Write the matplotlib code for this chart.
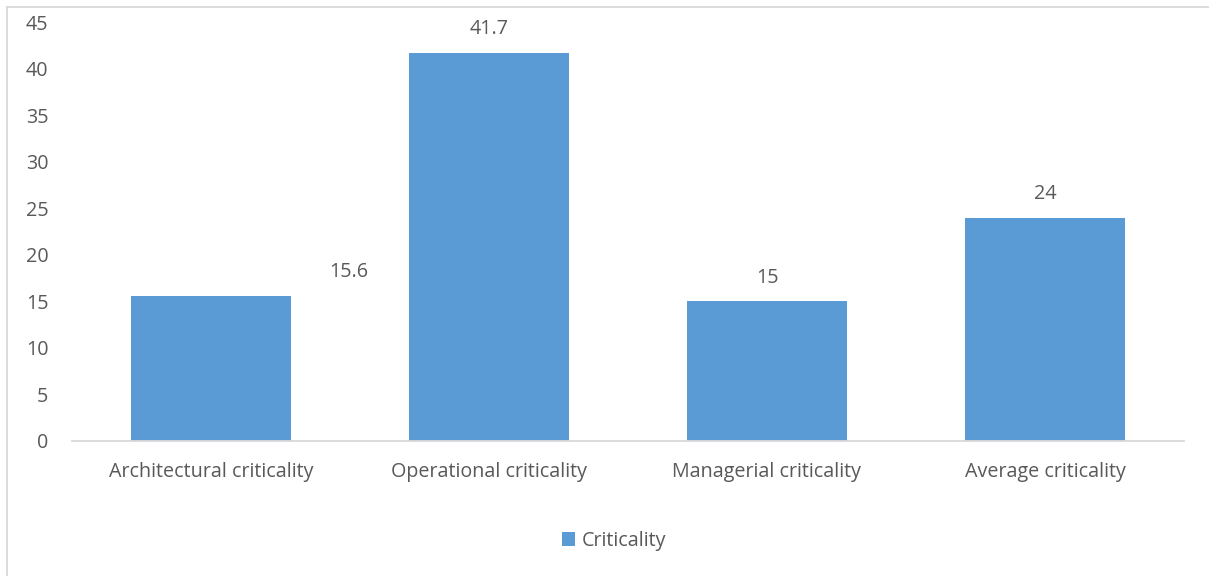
import matplotlib
matplotlib.use("Agg")
import matplotlib.pyplot as plt
from matplotlib.lines import Line2D

categories = ["Architectural criticality", "Operational criticality",
              "Managerial criticality", "Average criticality"]
values = [15.6, 41.7, 15, 24]
value_labels = ["15.6", "41.7", "15", "24"]
series_name = "Criticality"
yticks = [0, 5, 10, 15, 20, 25, 30, 35, 40, 45]

plt.rcParams['font.family'] = ['Open Sans', 'DejaVu Sans']
TXT = "#595959"
BAR = "#5B9BD5"
FS = 14.2

W, H = 1209, 576
fig = plt.figure(figsize=(W / 100, H / 100), dpi=100)
ax = fig.add_axes([72 / W, 1 - 441 / H, (1184 - 72) / W, (441 - 22) / H])

x = list(range(len(categories)))
bars = ax.bar(x, values, width=0.572, color=BAR, label=series_name)
ax.set_xlim(-0.5, len(categories) - 0.5)
ax.set_ylim(0, 45)
ax.set_yticks(yticks)
ax.set_xticks(x)
ax.set_xticklabels(categories)

for s in ["top", "right", "left"]:
    ax.spines[s].set_visible(False)
ax.spines["bottom"].set_color("#D9D9D9")
ax.spines["bottom"].set_linewidth(1.3)
ax.tick_params(axis="both", length=0, colors=TXT, labelsize=FS)
ax.tick_params(axis="y", pad=17)
ax.tick_params(axis="x", pad=15)

offsets = [138, 0, 0, 0]
for xi, v, lab, dx in zip(x, values, value_labels, offsets):
    ax.annotate(lab, xy=(xi, v), xytext=(dx * 0.72, 17), textcoords="offset points",
                ha="center", va="center", fontsize=FS, color=TXT)

leg = fig.legend(handles=[bars], labels=[series_name], loc="center",
                 bbox_to_anchor=(614 / W, 1 - 541 / H), frameon=False,
                 fontsize=FS, handlelength=0.65, handleheight=0.65,
                 handletextpad=0.35)
for t in leg.get_texts():
    t.set_color(TXT)

# outer chart border (left and top visible)
fig.add_artist(Line2D([7 / W, 7 / W], [0, 1 - 7 / H], transform=fig.transFigure,
                      color="#D9D9D9", lw=1.3))
fig.add_artist(Line2D([7 / W, 1], [1 - 7 / H, 1 - 7 / H], transform=fig.transFigure,
                      color="#D9D9D9", lw=1.3))

fig.savefig("out.png", dpi=100)
